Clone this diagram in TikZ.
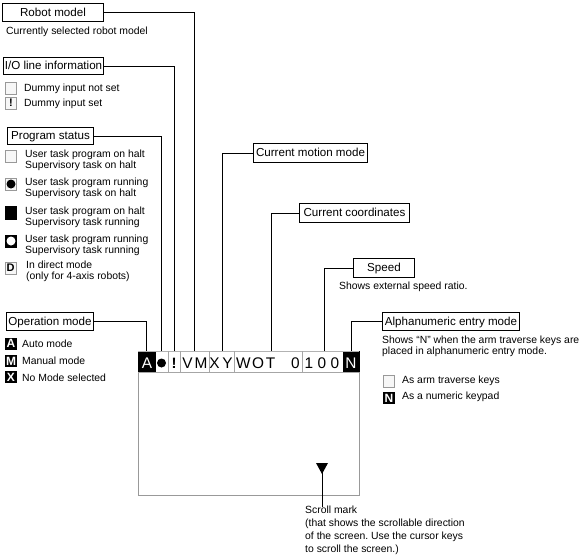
\documentclass[tikz,border=0pt]{standalone}
\usepackage{fontspec}
\setmainfont{Liberation Sans}
\frenchspacing
\tikzset{
 x=1pt,y=-1pt,
 lab/.style={draw,line width=1pt,fill=white,inner sep=0pt,text height=9.3pt,text depth=1.7pt,font=\fontsize{11.6}{12}\selectfont,anchor=north west},
 txt/.style={inner sep=0pt,anchor=west,align=left,font=\fontsize{10.4}{11}\selectfont},
 conn/.style={line width=1pt,black},
 ico/.style={draw=black!40,line width=1pt,fill=black!3,minimum width=11pt,minimum height=12pt,inner sep=0pt,font=\fontsize{11}{11}\selectfont\bfseries},
 icob/.style={draw=black,fill=black,text=white,minimum width=11pt,minimum height=11pt,inner sep=0pt,font=\fontsize{12}{12}\selectfont\bfseries},
 scr/.style={inner sep=0pt,font=\fontsize{15.4}{15.4}\selectfont},
 frameg/.style={draw=black!40,line width=1pt},
}
\begin{document}
\begin{tikzpicture}
\useasboundingbox (0,0) rectangle (580,557);
% screen
\node[frameg,minimum width=221pt,minimum height=144pt,anchor=north west,inner sep=0pt] (screen) at (138,351) {};
\fill[black] (138,351) rectangle (156,372);
\fill[black] (343,351) rectangle (359.5,372);
\draw[black!30,line width=.7pt] (138,351) -- (359,351);
\draw[black!35,line width=.7pt] (138,372) -- (359,372);
\foreach \x in {168,180,209,234,302}{\draw[black!35,line width=.7pt] (\x,351) -- (\x,372);}
\node[scr,text=white] (tA) at (147,363.5) {A};
\node[circle,fill=black,minimum size=9pt,inner sep=0pt] (tdot) at (161.5,363) {};
\node[scr,font=\fontsize{15}{15}\selectfont\bfseries] (tbang) at (174,363.5) {!};
\node[scr] (tV) at (187.5,363.5) {V};
\node[scr] (tM) at (201,363.5) {M};
\node[scr] (tX) at (214.5,363.5) {X};
\node[scr] (tY) at (227.5,363.5) {Y};
\node[scr] (tW) at (243.5,363.5) {W};
\node[scr] (tO) at (258,363.5) {O};
\node[scr] (tT) at (270.5,363.5) {T};
\node[scr] (t0a) at (295.5,363.5) {0};
\node[scr] (t1) at (309,363.5) {1};
\node[scr] (t0b) at (322,363.5) {0};
\node[scr] (t0c) at (335,363.5) {0};
\node[scr,text=white] (tN) at (351,363.5) {N};
% connector anchors
\coordinate (cA) at (146,351);
\coordinate (cdot) at (161,351);
\coordinate (cbang) at (174,351);
\coordinate (cV) at (194,351);
\coordinate (cX) at (222,351);
\coordinate (cT) at (271,351);
\coordinate (c0) at (324,351);
\coordinate (cN) at (351,351);
% labels
\node[lab,minimum width=101pt,minimum height=18pt] (robot) at (2,3) {Robot model};
\node[lab,minimum width=100pt,minimum height=17pt] (io) at (3,57) {I/O line information};
\node[lab,minimum width=86pt,minimum height=17pt] (prog) at (7,127) {Program status};
\node[lab,minimum width=87pt,minimum height=18pt] (opm) at (6,312) {Operation mode};
\node[lab,minimum width=114pt,minimum height=19pt] (motion) at (253,143) {Current motion mode};
\node[lab,minimum width=110pt,minimum height=19pt] (coord) at (299,203) {Current coordinates};
\node[lab,minimum width=61pt,minimum height=19pt] (speed) at (353,258) {Speed};
\node[lab,minimum width=137pt,minimum height=18pt] (alpha) at (382,312) {Alphanumeric entry mode};
\draw[conn] (robot.east) -| (cV);
\draw[conn] (io.east) -| (cbang);
\draw[conn] (prog.east) -| (cdot);
\draw[conn] (opm.east) -| (cA);
\draw[conn] (motion.west) -| (cX);
\draw[conn] (coord.west) -| (cT);
\draw[conn] (speed.west) -| (c0);
\draw[conn] (alpha.west) -| (cN);
% texts
\node[txt] (t1a) at (6,32) {Currently selected robot model};
\node[ico] (i1) at (11,88) {};
\node[txt] (t2) at (24,88.5) {Dummy input not set};
\node[ico] (i2) at (11,103) {!};
\node[txt] (t3) at (24,103.5) {Dummy input set};
\node[ico] (i3) at (11,156.5) {};
\node[txt] (t4) at (25,160.5) {User task program on halt\\Supervisory task on halt};
\node[ico] (i4) at (11,184) {};
\node[circle,fill=black,minimum size=9pt,inner sep=0pt] (i4d) at (i4) {};
\node[txt] (t5) at (25,188.5) {User task program running\\Supervisory task on halt};
\node[draw,fill=black,minimum width=11pt,minimum height=13pt,inner sep=0pt] (i5) at (11,213) {};
\node[txt] (t6) at (25,217) {User task program on halt\\Supervisory task running};
\node[draw,fill=black,minimum width=11pt,minimum height=12pt,inner sep=0pt] (i6) at (11,241) {};
\node[circle,fill=white,minimum size=9pt,inner sep=0pt] (i6d) at (i6) {};
\node[txt] (t7) at (25,245) {User task program running\\Supervisory task running};
\node[ico] (i7) at (10.5,268) {D};
\node[txt] (t8) at (26,271.5) {In direct mode\\(only for 4-axis robots)};
\node[icob] (i8) at (11,343.5) {A};
\node[txt] (t9) at (22,344) {Auto mode};
\node[icob] (i9) at (11,361) {M};
\node[txt] (t10) at (22,360.5) {Manual mode};
\node[icob] (i10) at (11,377) {X};
\node[txt] (t11) at (22,377.5) {No Mode selected};
\node[txt] (t12) at (339,287) {Shows external speed ratio.};
\node[txt] (t13) at (382,346.5) {Shows “N” when the arm traverse keys are\\placed in alphanumeric entry mode.};
\node[ico] (i11) at (389,381) {};
\node[txt] (t14) at (402,381) {As arm traverse keys};
\node[icob] (i12) at (389,398) {N};
\node[txt] (t15) at (402,397) {As a numeric keypad};
% scroll
\fill[black] (316,463) -- (328,463) -- (322,474) -- cycle;
\coordinate (stip) at (322,470);
\coordinate (send) at (322,507);
\draw[conn] (stip) -- (send);
\node[txt,font=\fontsize{10.4}{13}\selectfont,anchor=north west] (t16) at (305,506) {Scroll mark\\(that shows the scrollable direction\\of the screen. Use the cursor keys\\to scroll the screen.)};
\end{tikzpicture}
\end{document}
